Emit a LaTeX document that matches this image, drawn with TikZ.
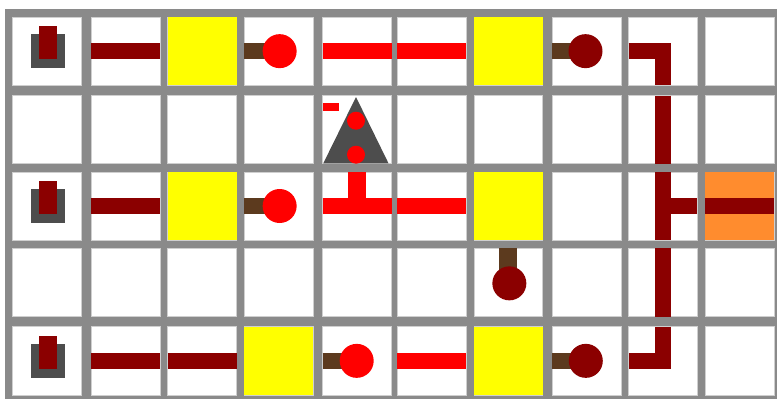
\documentclass[tikz,border=0pt]{standalone}
\usepackage{tikz}
\definecolor{gridgray}{HTML}{8A8A8A}
\definecolor{celledge}{HTML}{CFCFCF}
\definecolor{lit}{HTML}{FF0000}
\definecolor{unlit}{HTML}{8B0000}
\definecolor{stubbrown}{HTML}{5C3A1E}
\definecolor{metal}{HTML}{4D4D4D}
\definecolor{padorange}{HTML}{FF8C2E}
\definecolor{latch}{HTML}{FFFF00}
\tikzset{
  cell/.style    = {draw=celledge, fill=white, line width=0.6pt, inner sep=0pt, outer sep=0pt},
  wire/.style    = {draw=unlit, line width=16pt},
  livewire/.style = {draw=lit, line width=16pt},
  stub/.style    = {draw=stubbrown, line width=16pt},
  ball/.style    = {circle, minimum size=34pt, inner sep=0pt, outer sep=0pt},
  dot/.style     = {circle, fill=lit, minimum size=18pt, inner sep=0pt, outer sep=0pt},
  srcbase/.style = {fill=metal, minimum size=34pt, inner sep=0pt, outer sep=0pt},
  srcbar/.style  = {fill=unlit, minimum width=18pt, minimum height=33pt, inner sep=0pt, outer sep=0pt},
}
\begin{document}
\begin{tikzpicture}[x=1pt,y=-1pt]
  \useasboundingbox (0,0) rectangle (777,399);
  \fill[gridgray] (5,9) rectangle (777,399);
  % cells
  \foreach \r/\ya/\yb in {1/17/85.3,2/95.5/163.7,3/172/240,4/248/316.7,5/326.7/395}{
    \foreach \c/\xa/\xb in {1/12.7/81.7,2/91.3/160,3/167.7/236.5,4/244.3/313,5/322.7/391.7,6/397.3/466,7/474/542.7,8/552/621,9/628.7/697,10/705/774}{
      \node[cell,minimum width={(\xb-\xa)*1pt},minimum height={(\yb-\ya)*1pt}] (c\r-\c)
        at ({(\xa+\xb)/2},{(\ya+\yb)/2}) {};}}
  % latches and output pad
  \foreach \n in {c1-3,c1-7,c3-3,c3-7,c5-4,c5-7}{
    \fill[latch] (\n.north west) rectangle (\n.south east);}
  \fill[padorange] (c3-10.north west) rectangle (c3-10.south east);
  % sources
  \foreach \n in {c1-1,c3-1,c5-1}{
    \node[srcbase] (base\n) at ([xshift=1pt]\n) {};
    \node[srcbar] (bar\n) at ([xshift=1pt,yshift=8.5pt]\n) {};}
  % straight wires
  \foreach \n in {c1-2,c3-2,c5-2,c5-3,c3-10}{
    \draw[wire] (\n.west) -- (\n.east);}
  \foreach \n in {c1-5,c1-6,c3-6,c5-6}{
    \draw[livewire] (\n.west) -- (\n.east);}
  % bus on the right
  \draw[wire] (c1-9.west) -- (c1-9.center) -- (c1-9.south);
  \draw[wire] (c2-9.north) -- (c2-9.south);
  \draw[wire] (c3-9.north) -- (c3-9.south);
  \draw[wire] (c3-9.center) -- (c3-9.east);
  \draw[wire] (c4-9.north) -- (c4-9.south);
  \draw[wire] (c5-9.north) -- (c5-9.center) -- (c5-9.west);
  % lamps
  \foreach \n/\col/\dx in {c1-4/lit/1,c3-4/lit/1,c5-5/lit/-0.5,c1-8/unlit/-1,c5-8/unlit/-0.7}{
    \draw[stub] (\n.west) -- (\n.center);
    \node[ball,fill=\col] (ball\n) at ([xshift=\dx pt]\n) {};}
  \draw[stub,line width=18pt] (c4-7.north) -- (c4-7.center);
  \node[ball,fill=unlit] (ballc4-7) at ([xshift=1pt,yshift=-1pt]c4-7) {};
  % gate
  \draw[livewire] (c3-5.west) -- (c3-5.east);
  \draw[livewire,line width=18pt] (c3-5.north) -- (c3-5.center);
  \fill[metal] (323.3,163.3) -- (356,97) -- (388.5,163.3) -- cycle;
  \node[dot] (dottop) at (356,120.7) {};
  \node[dot] (dotbot) at (356,154.7) {};
  \fill[lit] (322.7,103.3) rectangle (339,111.3);
\end{tikzpicture}
\end{document}
